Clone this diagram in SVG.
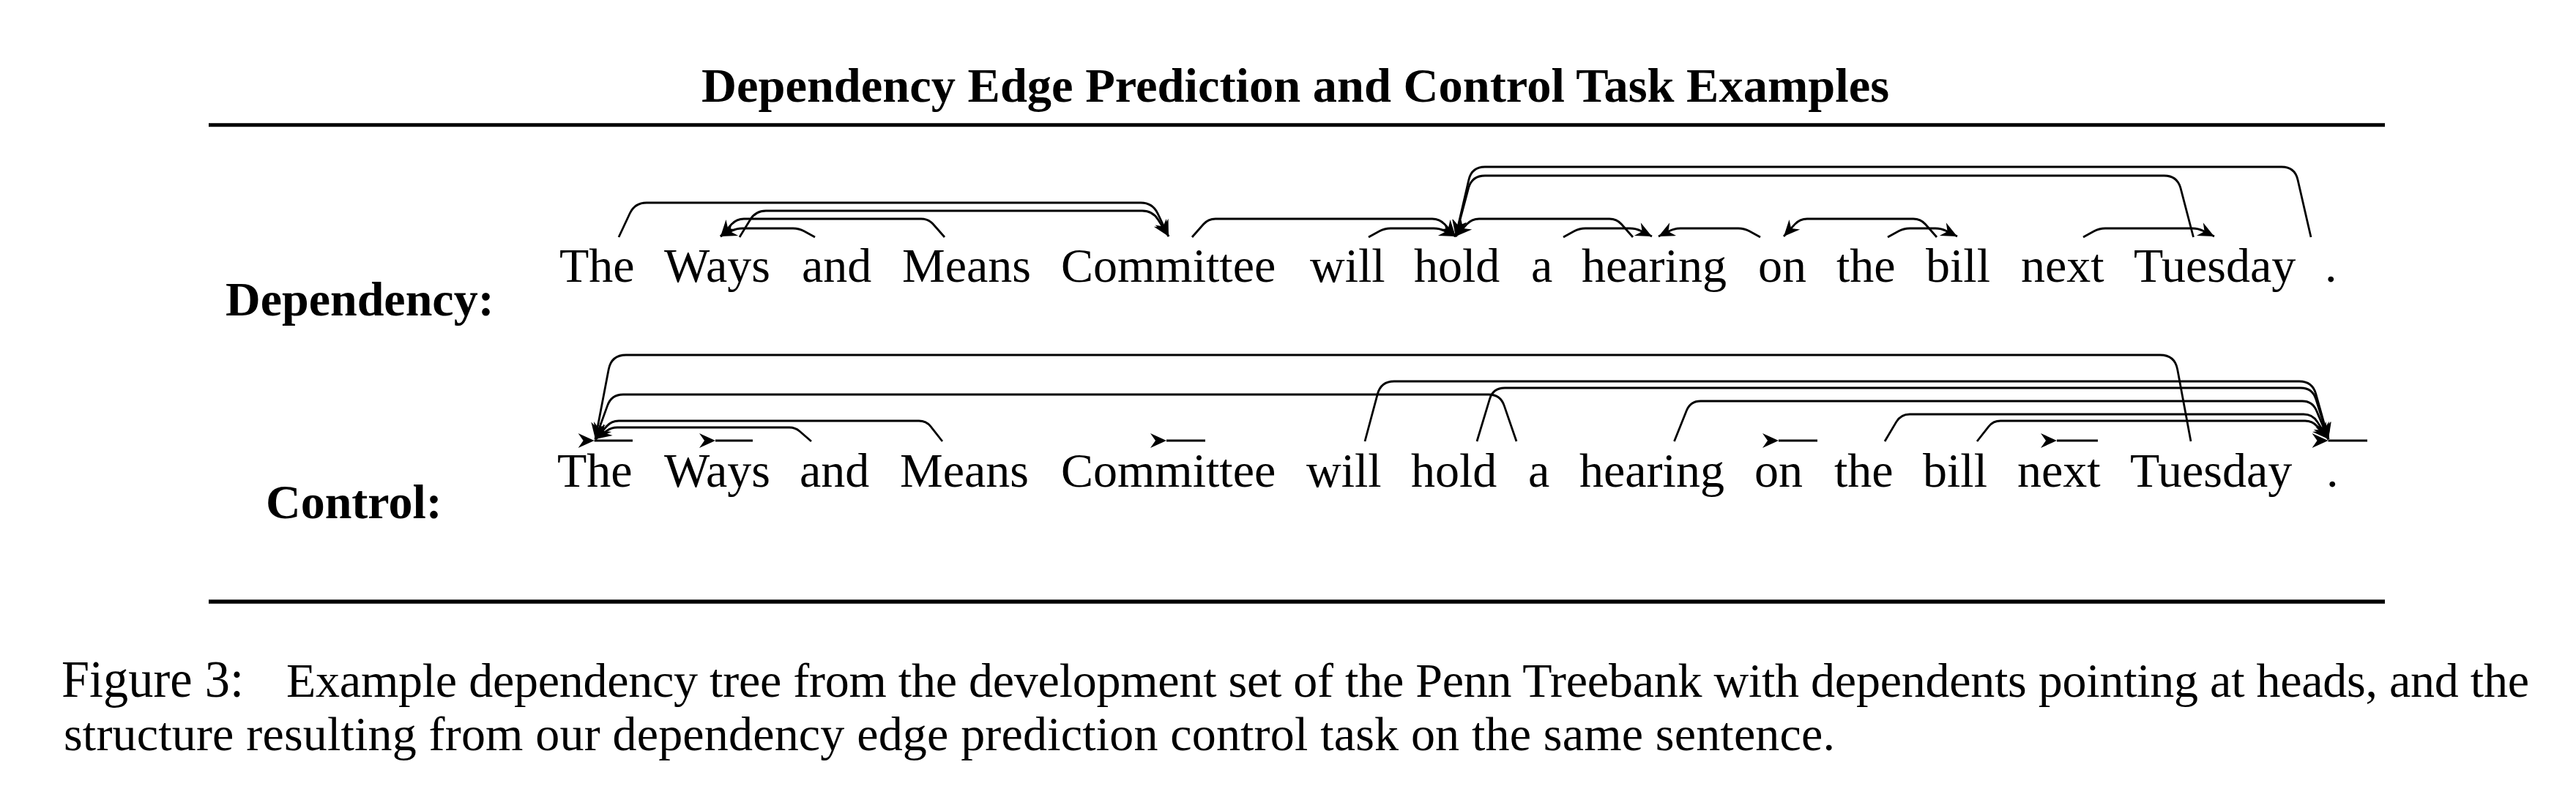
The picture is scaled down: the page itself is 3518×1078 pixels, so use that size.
<svg xmlns="http://www.w3.org/2000/svg" width="3518" height="1078" viewBox="0 0 3518 1078">
<style>
text{font-family:"Liberation Serif","Times New Roman",serif;fill:#000}
.w{font-size:66px}
.b{font-size:66px;font-weight:bold}
.cap{font-size:66px}
.e{fill:none;stroke:#000;stroke-width:2.8;stroke-linejoin:round;marker-end:url(#ah)}
.s{fill:none;stroke:#000;stroke-width:2.8;marker-start:url(#ah)}
.rule{stroke:#000}
</style>
<defs>
<marker id="ah" markerUnits="userSpaceOnUse" viewBox="-24 -12 26 24" refX="0" refY="0" markerWidth="26" markerHeight="24" orient="auto">
<path d="M0,0 L-22,-10 L-15,0 L-22,10 Z" fill="#000"/>
</marker>
</defs>
<rect width="3518" height="1078" fill="#fff"/>
<text class="b" x="958" y="139" textLength="1622" lengthAdjust="spacingAndGlyphs">Dependency Edge Prediction and Control Task Examples</text>
<line class="rule" x1="285" y1="170.8" x2="3257" y2="170.8" stroke-width="5"/>
<line class="rule" x1="285" y1="822" x2="3257" y2="822" stroke-width="5.6"/>
<text class="b" x="308" y="431">Dependency:</text>
<text class="b" x="363" y="708">Control:</text>

<g id="dep-words">
<g id="d1"><text class="w" x="764" y="385">The</text></g>
<g id="d2"><text class="w" x="907" y="385">Ways</text></g>
<g id="d3"><text class="w" x="1095" y="385">and</text></g>
<g id="d4"><text class="w" x="1232" y="385">Means</text></g>
<g id="d5"><text class="w" x="1449" y="385">Committee</text></g>
<g id="d6"><text class="w" x="1789" y="385">will</text></g>
<g id="d7"><text class="w" x="1931" y="385">hold</text></g>
<g id="d8"><text class="w" x="2091" y="385">a</text></g>
<g id="d9"><text class="w" x="2160" y="385">hearing</text></g>
<g id="d10"><text class="w" x="2401" y="385">on</text></g>
<g id="d11"><text class="w" x="2508" y="385">the</text></g>
<g id="d12"><text class="w" x="2630" y="385">bill</text></g>
<g id="d13"><text class="w" x="2760" y="385">next</text></g>
<g id="d14"><text class="w" x="2914" y="385">Tuesday</text></g>
<g id="d15"><text class="w" x="3175" y="385">.</text></g>
</g>

<g id="ctl-words">
<g id="c1"><text class="w" x="761" y="665">The</text></g>
<g id="c2"><text class="w" x="907" y="665">Ways</text></g>
<g id="c3"><text class="w" x="1092" y="665">and</text></g>
<g id="c4"><text class="w" x="1229" y="665">Means</text></g>
<g id="c5"><text class="w" x="1449" y="665">Committee</text></g>
<g id="c6"><text class="w" x="1784" y="665">will</text></g>
<g id="c7"><text class="w" x="1927" y="665">hold</text></g>
<g id="c8"><text class="w" x="2087" y="665">a</text></g>
<g id="c9"><text class="w" x="2157" y="665">hearing</text></g>
<g id="c10"><text class="w" x="2396" y="665">on</text></g>
<g id="c11"><text class="w" x="2505" y="665">the</text></g>
<g id="c12"><text class="w" x="2626" y="665">bill</text></g>
<g id="c13"><text class="w" x="2755" y="665">next</text></g>
<g id="c14"><text class="w" x="2909" y="665">Tuesday</text></g>
<g id="c15"><text class="w" x="3177" y="665">.</text></g>
</g>

<g id="connectors">
<path class="e" d="M845,324 L860.2,291.5 Q867,277 883,277 L1558,277 Q1574,277 1580.9,291.4 L1596,323"/>
<path class="e" d="M1010,324 L1024.7,299.9 Q1032,288 1046,288 L1560,288 Q1574,288 1581.5,299.9 L1596,323"/>
<path class="e" d="M1113,324 L1098,315.8 Q1091,312 1083,312 L1014,312 Q1006,312 999,315.5 L984,323"/>
<path class="e" d="M1290,324 L1274.6,306.5 Q1268,299 1258,299 L1016,299 Q1006,299 999.2,306.4 L984,323"/>
<path class="e" d="M1628,324 L1643.4,306.5 Q1650,299 1660,299 L1956,299 Q1966,299 1972.8,306.4 L1988,323"/>
<path class="e" d="M1869,324 L1884,315.8 Q1891,312 1899,312 L1958,312 Q1966,312 1973,315.5 L1988,323"/>
<path class="e" d="M2230,324 L2214.6,306.5 Q2208,299 2198,299 L2020,299 Q2010,299 2003.2,306.4 L1988,323"/>
<path class="e" d="M2135,324 L2150,315.8 Q2157,312 2165,312 L2226,312 Q2234,312 2241,315.5 L2256,323"/>
<path class="e" d="M2404,324 L2389,315.8 Q2382,312 2374,312 L2295,312 Q2287,312 2280,315.5 L2265,323"/>
<path class="e" d="M2645,324 L2629.6,306.5 Q2623,299 2613,299 L2468,299 Q2458,299 2451.2,306.4 L2436,323"/>
<path class="e" d="M2578,324 L2593,315.8 Q2600,312 2608,312 L2643,312 Q2651,312 2658,315.5 L2673,323"/>
<path class="e" d="M2845,324 L2860,315.8 Q2867,312 2875,312 L2994,312 Q3002,312 3009,315.5 L3024,323"/>
<path class="e" d="M2995.5,324 L2978.1,257.4 Q2973.5,240 2955.5,240 L2028,240 Q2010,240 2005.4,257.4 L1988,323"/>
<path class="e" d="M3156,324 L3138,245.6 Q3134,228 3116,228 L2028,228 Q2010,228 2005.9,245.6 L1988,323"/>

<path class="s" d="M811.6,602 L864,602"/>
<path class="s" d="M977,602 L1028,602"/>
<path class="s" d="M1593,602 L1646,602"/>
<path class="s" d="M2429,602 L2482,602"/>
<path class="s" d="M2809,602 L2865,602"/>
<path class="s" d="M3179.5,602 L3233,602"/>

<path class="e" d="M1108,603 L1092.1,589.2 Q1086,584 1078,584 L843,584 Q835,584 828.5,588.7 L813,600"/>
<path class="e" d="M1287,603 L1271.2,582.8 Q1265,575 1255,575 L845,575 Q835,575 828.4,582.5 L813,600"/>
<path class="e" d="M2071,603 L2054.2,554.1 Q2049,539 2033,539 L851,539 Q835,539 829.6,554.1 L813,600"/>
<path class="e" d="M2992,603 L2973.7,504.7 Q2970,485 2950,485 L855,485 Q835,485 831.2,504.7 L813,600"/>
<path class="e" d="M1864,603 L1881.3,538.4 Q1886,521 1904,521 L3140,521 Q3158,521 3162.8,538.4 L3180,600"/>
<path class="e" d="M2017,603 L2034.4,545.3 Q2039,530 2055,530 L3142,530 Q3158,530 3162.8,545.3 L3180,600"/>
<path class="e" d="M2286.5,603 L2303.3,561 Q2308.5,548 2322.5,548 L3144,548 Q3158,548 3163.5,560.9 L3180,600"/>
<path class="e" d="M2574,603 L2589.8,576.4 Q2596,566 2608,566 L3146,566 Q3158,566 3164.5,576.1 L3180,600"/>
<path class="e" d="M2700,603 L2715.8,582.8 Q2722,575 2732,575 L3148,575 Q3158,575 3164.6,582.5 L3180,600"/>
</g>

<text x="84" y="952" font-size="72" textLength="249" lengthAdjust="spacingAndGlyphs">Figure 3:</text>
<text class="cap" x="391" y="952" textLength="3063" lengthAdjust="spacing">Example dependency tree from the development set of the Penn Treebank with dependents pointing at heads, and the</text>
<text class="cap" x="87" y="1025" textLength="2419" lengthAdjust="spacing">structure resulting from our dependency edge prediction control task on the same sentence.</text>
</svg>
